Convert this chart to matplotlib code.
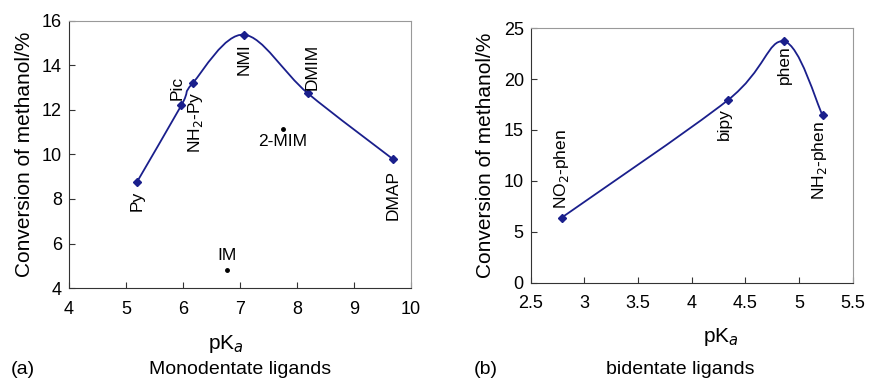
import matplotlib.pyplot as plt
import numpy as np
from matplotlib.path import Path
from matplotlib.patches import PathPatch

plt.rcParams['font.family'] = ['Liberation Sans', 'DejaVu Sans']

# monodentate ligands (on the curve)
mono_names = ["Py", "Pic", "NH$_2$-Py", "NMI", "DMIM", "DMAP"]
mono_pka = [5.19, 5.97, 6.17, 7.07, 8.19, 9.68]
mono_conv = [8.75, 12.2, 13.2, 15.38, 12.75, 9.8]
# monodentate ligands off the curve
other_names = ["2-MIM", "IM"]
other_pka = [7.75, 6.78]
other_conv = [11.15, 4.8]

# bidentate ligands
bi_names = ["NO$_2$-phen", "bipy", "phen", "NH$_2$-phen"]
bi_pka = [2.79, 4.34, 4.86, 5.22]
bi_conv = [6.4, 17.95, 23.7, 16.45]

line_col = '#1a1f8c'


# smooth line like a spreadsheet "smoothed line" (Catmull-Rom -> bezier)
def smooth_path(x, y, ax):
    pts = ax.transData.transform(np.column_stack([x, y]))
    verts = [pts[0]]
    codes = [Path.MOVETO]
    n = len(pts)
    for i in range(n - 1):
        p0 = pts[i - 1] if i > 0 else pts[i]
        p1 = pts[i]
        p2 = pts[i + 1]
        p3 = pts[i + 2] if i + 2 < n else pts[i + 1]
        c1 = p1 + (p2 - p0) / 6.0
        c2 = p2 - (p3 - p1) / 6.0
        verts += [c1, c2, p2]
        codes += [Path.CURVE4] * 3
    path = Path(ax.transData.inverted().transform(np.array(verts)), codes)
    ax.add_patch(PathPatch(path, fill=False, edgecolor=line_col, lw=1.3))


def style_axes(ax):
    ax.tick_params(direction='in', labelsize=13, length=4, color='#333333')
    ax.tick_params(axis='x', pad=9)
    ax.tick_params(axis='y', pad=5)
    for s in ['top', 'right']:
        ax.spines[s].set_color('#999999')
    for s in ['left', 'bottom']:
        ax.spines[s].set_color('#333333')
    ax.set_ylabel("Conversion of methanol/%", fontsize=15, labelpad=6)
    ax.set_xlabel("pK$_a$", fontsize=15)


fig = plt.figure(figsize=(8.7, 3.8), dpi=100)

# (a) monodentate
ax1 = fig.add_axes([0.0793, 0.242, 0.393, 0.703])
ax1.set_xlim(4, 10)
ax1.set_ylim(4, 16)
ax1.set_xticks(range(4, 11))
ax1.set_yticks(range(4, 17, 2))
style_axes(ax1)
ax1.xaxis.set_label_coords(0.46, -0.17)
smooth_path(mono_pka, mono_conv, ax1)
ax1.plot(mono_pka, mono_conv, 'D', color=line_col, ms=4, ls='none')
ax1.plot(other_pka, other_conv, 'o', color='black', ms=2.5, ls='none')

lab_kw = dict(fontsize=12.5, rotation=90)
ax1.annotate(mono_names[0], (mono_pka[0], mono_conv[0]), xytext=(0, -6),
             textcoords='offset points', ha='center', va='top', **lab_kw)
ax1.annotate(mono_names[1], (mono_pka[1], mono_conv[1]), xytext=(-3, 4),
             textcoords='offset points', ha='center', va='bottom', **lab_kw)
ax1.annotate(mono_names[2], (mono_pka[2], mono_conv[2]), xytext=(2, -6),
             textcoords='offset points', ha='center', va='top', **lab_kw)
ax1.annotate(mono_names[3], (mono_pka[3], mono_conv[3]), xytext=(0, -6),
             textcoords='offset points', ha='center', va='top', **lab_kw)
ax1.annotate(mono_names[4], (mono_pka[4], mono_conv[4]), xytext=(3, 2),
             textcoords='offset points', ha='center', va='bottom', **lab_kw)
ax1.annotate(mono_names[5], (mono_pka[5], mono_conv[5]), xytext=(0, -8),
             textcoords='offset points', ha='center', va='top', **lab_kw)
ax1.annotate(other_names[0], (other_pka[0], other_conv[0]), xytext=(0, -4),
             textcoords='offset points', ha='center', va='top', fontsize=12.5)
ax1.annotate(other_names[1], (other_pka[1], other_conv[1]), xytext=(0, 5),
             textcoords='offset points', ha='center', va='bottom', fontsize=12.5)

fig.text(0.012, 0.015, "(a)", fontsize=14)
fig.text(0.276, 0.015, "Monodentate ligands", fontsize=14, ha='center')

# (b) bidentate
ax2 = fig.add_axes([0.610, 0.256, 0.370, 0.670])
ax2.set_xlim(2.5, 5.5)
ax2.set_ylim(0, 25)
ax2.set_xticks(np.arange(2.5, 5.6, 0.5))
ax2.set_xticklabels(["2.5", "3", "3.5", "4", "4.5", "5", "5.5"])
ax2.set_yticks(range(0, 26, 5))
style_axes(ax2)
ax2.xaxis.set_label_coords(0.59, -0.17)
smooth_path(bi_pka, bi_conv, ax2)
ax2.plot(bi_pka, bi_conv, 'D', color=line_col, ms=4, ls='none')

ax2.annotate(bi_names[0], (bi_pka[0], bi_conv[0]), xytext=(0, 6),
             textcoords='offset points', ha='center', va='bottom', **lab_kw)
ax2.annotate(bi_names[1], (bi_pka[1], bi_conv[1]), xytext=(-3, -6),
             textcoords='offset points', ha='center', va='top', **lab_kw)
ax2.annotate(bi_names[2], (bi_pka[2], bi_conv[2]), xytext=(0, -3),
             textcoords='offset points', ha='center', va='top', **lab_kw)
ax2.annotate(bi_names[3], (bi_pka[3], bi_conv[3]), xytext=(-2, -4),
             textcoords='offset points', ha='center', va='top', **lab_kw)

fig.text(0.545, 0.015, "(b)", fontsize=14)
fig.text(0.782, 0.015, "bidentate ligands", fontsize=14, ha='center')

fig.savefig("out.png", dpi=100)
